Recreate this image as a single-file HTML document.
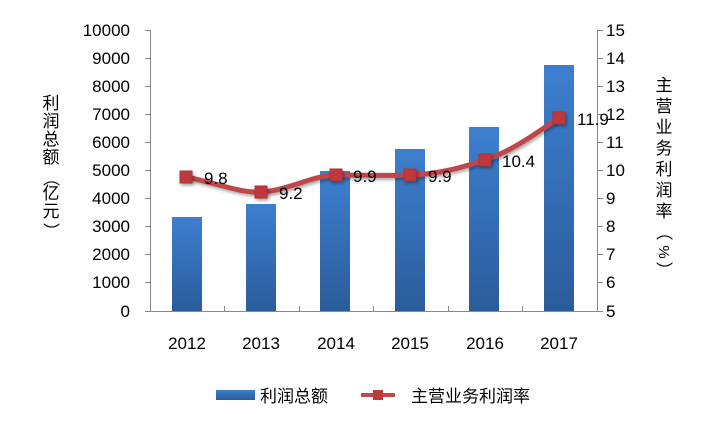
<!DOCTYPE html>
<html><head><meta charset="utf-8"><style>
body{margin:0;background:#fff;}
svg text{font-family:"Liberation Sans","Noto Sans CJK SC",sans-serif;}
</style></head><body>
<svg width="715" height="421" viewBox="0 0 715 421" xmlns="http://www.w3.org/2000/svg">
<defs>
<linearGradient id="g" x1="0" y1="0" x2="0" y2="1">
<stop offset="0" stop-color="#3d7fcf"/><stop offset="1" stop-color="#2b5c9a"/>
</linearGradient>
<filter id="sh" x="-20%" y="-20%" width="160%" height="160%"><feDropShadow dx="1.5" dy="2" stdDeviation="1.5" flood-opacity="0.35"/></filter>
</defs>
<g stroke="#888" stroke-width="1">
<line x1="150.5" y1="30" x2="150.5" y2="311"/>
<line x1="597.5" y1="30" x2="597.5" y2="311"/>
<line x1="150" y1="311.5" x2="598" y2="311.5"/>
<g id="lt">
<line x1="145" y1="30.5" x2="150" y2="30.5"/><line x1="145" y1="58.5" x2="150" y2="58.5"/><line x1="145" y1="86.5" x2="150" y2="86.5"/><line x1="145" y1="114.5" x2="150" y2="114.5"/><line x1="145" y1="142.5" x2="150" y2="142.5"/><line x1="145" y1="170.5" x2="150" y2="170.5"/><line x1="145" y1="198.5" x2="150" y2="198.5"/><line x1="145" y1="226.5" x2="150" y2="226.5"/><line x1="145" y1="254.5" x2="150" y2="254.5"/><line x1="145" y1="282.5" x2="150" y2="282.5"/><line x1="145" y1="311.5" x2="150" y2="311.5"/>
</g>
<use href="#lt" transform="translate(453,0)"/>
<line x1="224.5" y1="306" x2="224.5" y2="311"/><line x1="299.5" y1="306" x2="299.5" y2="311"/><line x1="373.5" y1="306" x2="373.5" y2="311"/><line x1="448.5" y1="306" x2="448.5" y2="311"/><line x1="522.5" y1="306" x2="522.5" y2="311"/>
</g>
<g fill="url(#g)">
<rect x="172" y="217" width="30" height="94"/>
<rect x="246" y="204" width="30" height="107"/>
<rect x="320" y="171" width="30" height="140"/>
<rect x="395" y="149" width="30" height="162"/>
<rect x="469" y="127" width="30" height="184"/>
<rect x="544" y="65" width="30" height="246"/>
</g>
<path d="M186,177 C220,184 240,193 261,192 C290,190 310,176 336,175 C370,175 390,176 410,175 C440,174 460,168 485,160 C515,150 540,130 559,118" fill="none" stroke="#c0474a" stroke-width="5" filter="url(#sh)"/>
<g fill="#c0393c" stroke="#b03336" stroke-width="1" filter="url(#sh)">
<rect x="180" y="171" width="12" height="12"/><rect x="255" y="186" width="12" height="12"/><rect x="330" y="169" width="12" height="12"/><rect x="404" y="169" width="12" height="12"/><rect x="479" y="154" width="12" height="12"/><rect x="553" y="112" width="12" height="12"/>
</g>
<g font-size="17" fill="#000">
<text x="204" y="184">9.8</text><text x="279" y="199">9.2</text><text x="353" y="182">9.9</text><text x="428" y="182">9.9</text><text x="502" y="167">10.4</text><text x="577" y="125">11.9</text>
</g>
<g font-size="17" fill="#000" text-anchor="end">
<text x="130" y="36">10000</text><text x="130" y="64">9000</text><text x="130" y="92">8000</text><text x="130" y="120">7000</text><text x="130" y="148">6000</text><text x="130" y="176">5000</text><text x="130" y="204">4000</text><text x="130" y="232">3000</text><text x="130" y="260">2000</text><text x="130" y="288">1000</text><text x="130" y="317">0</text>
</g>
<g font-size="17" fill="#000">
<text x="606" y="36">15</text><text x="606" y="64">14</text><text x="606" y="92">13</text><text x="606" y="120">12</text><text x="606" y="148">11</text><text x="606" y="176">10</text><text x="606" y="204">9</text><text x="606" y="232">8</text><text x="606" y="260">7</text><text x="606" y="288">6</text><text x="606" y="317">5</text>
</g>
<g font-size="17" fill="#000" text-anchor="middle">
<text x="187" y="349">2012</text><text x="261" y="349">2013</text><text x="336" y="349">2014</text><text x="410" y="349">2015</text><text x="485" y="349">2016</text><text x="559" y="349">2017</text>
</g>
<g font-size="17" fill="#000" text-anchor="middle">
<text x="51" y="109">利</text><text x="51" y="127">润</text><text x="51" y="145">总</text><text x="51" y="163">额</text>
<text x="51" y="184" transform="rotate(90 51 178)">（</text><text x="51" y="199">亿</text><text x="51" y="217">元</text><text x="51" y="237" transform="rotate(90 51 231)">）</text>
<text x="664" y="91">主</text><text x="664" y="112">营</text><text x="664" y="133">业</text><text x="664" y="154">务</text><text x="664" y="175">利</text><text x="664" y="196">润</text><text x="664" y="217">率</text>
<text x="664" y="238" transform="rotate(90 664 232)">（</text><text x="664" y="257" transform="rotate(90 664 252)" font-size="15">%</text><text x="664" y="276" transform="rotate(90 664 270)">）</text>
</g>
<rect x="216" y="390" width="39" height="10" fill="url(#g)"/>
<text x="260" y="402" font-size="17">利润总额</text>
<line x1="361" y1="395" x2="395" y2="395" stroke="#c0474a" stroke-width="4"/>
<rect x="373" y="390" width="10" height="10" fill="#c0393c"/>
<text x="411" y="402" font-size="17">主营业务利润率</text>
</svg>
</body></html>
